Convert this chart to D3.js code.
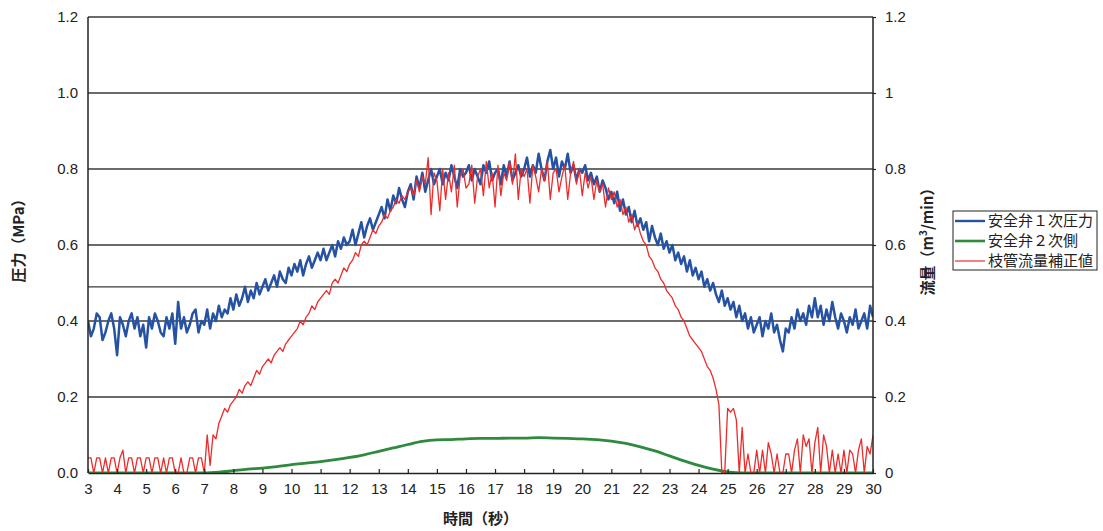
<!DOCTYPE html>
<html>
<head>
<meta charset="utf-8">
<script src="https://cdn.jsdelivr.net/npm/d3@7"></script>
<style>
  html, body { margin: 0; padding: 0; background: #fff; }
  svg { display: block; }
</style>
</head>
<body>
<svg id="chart" width="1103" height="531"></svg>
<script>
// ---- data ----
const seriesNames = ["安全弁１次圧力", "安全弁２次側", "枝管流量補正値"];
const xTicks = [3,4,5,6,7,8,9,10,11,12,13,14,15,16,17,18,19,20,21,22,23,24,25,26,27,28,29,30];
const yTicks = [0, 0.2, 0.4, 0.6, 0.8, 1.0, 1.2];
const leftTickLabels = ["0.0", "0.2", "0.4", "0.6", "0.8", "1.0", "1.2"];
const rightTickLabels = ["0", "0.2", "0.4", "0.6", "0.8", "1", "1.2"];
const refLine = 0.49;

// sampled every 0.1 s from 3.0 s
const fineStart = 3, fineStep = 0.1;
const primaryPressure = [
  .40,.36,.38,.42,.41,.35,.37,.40,.42,.38,.31,
  .41,.39,.36,.40,.42,.38,.41,.36,.39,.33,
  .41,.38,.42,.40,.37,.36,.41,.38,.42,.34,
  .45,.38,.41,.37,.39,.42,.43,.37,.40,.39,
  .43,.38,.42,.40,.44,.41,.43,.42,.46,.43,
  .47,.44,.46,.49,.45,.48,.46,.50,.47,.49,
  .51,.48,.50,.52,.49,.53,.51,.50,.54,.52,
  .55,.53,.56,.52,.55,.57,.54,.56,.58,.56,
  .59,.56,.58,.60,.57,.61,.59,.62,.60,.61,
  .64,.60,.63,.66,.62,.65,.67,.64,.66,.68,
  .70,.67,.72,.69,.73,.71,.75,.72,.70,.74,
  .76,.72,.78,.75,.79,.74,.77,.80,.76,.78,
  .80,.76,.79,.77,.81,.78,.75,.80,.78,.79,
  .81,.77,.80,.78,.76,.81,.79,.82,.77,.79,
  .80,.76,.81,.78,.82,.77,.79,.81,.78,.80,
  .83,.78,.81,.79,.84,.80,.77,.82,.85,.80,
  .83,.78,.82,.80,.84,.79,.81,.77,.80,.79,
  .81,.77,.79,.76,.78,.74,.77,.75,.72,.74,
  .71,.74,.69,.72,.68,.70,.66,.69,.65,.67,
  .64,.66,.61,.65,.62,.60,.63,.59,.61,.58,
  .60,.56,.58,.55,.57,.53,.56,.52,.54,.51,
  .53,.49,.51,.48,.50,.47,.45,.48,.44,.46,
  .43,.45,.41,.44,.40,.42,.38,.41,.37,.39,
  .41,.36,.40,.38,.42,.37,.39,.35,.32,.38,
  .37,.41,.38,.43,.40,.42,.39,.44,.41,.46,
  .41,.44,.39,.43,.40,.45,.41,.38,.42,.40,
  .37,.41,.39,.43,.38,.40,.42,.38,.44,.41
];
const branchFlow = [
  .04,.04,0,.04,.04,0,.04,0,.04,.04,0,
  .04,.06,0,.04,.04,0,.04,.04,0,.04,
  .04,0,.04,.04,0,.04,0,.04,.04,0,
  0,.04,0,0,.04,.04,0,.04,.04,0,
  .10,.02,.10,.09,.13,.15,.17,.16,.18,.19,
  .20,.22,.21,.23,.24,.23,.25,.27,.26,.28,
  .29,.30,.29,.31,.32,.33,.32,.34,.35,.36,
  .37,.38,.40,.39,.41,.42,.44,.43,.45,.46,
  .47,.48,.47,.50,.51,.50,.52,.54,.53,.55,
  .56,.58,.57,.60,.61,.60,.62,.64,.63,.65,
  .66,.68,.67,.69,.70,.72,.71,.73,.72,.74,
  .75,.73,.77,.74,.78,.76,.83,.68,.79,.77,
  .69,.80,.72,.79,.74,.81,.70,.78,.80,.75,
  .76,.81,.71,.78,.80,.73,.82,.75,.79,.70,
  .81,.73,.79,.77,.82,.76,.84,.72,.80,.78,
  .80,.71,.81,.78,.74,.80,.77,.82,.72,.79,
  .80,.74,.78,.81,.72,.79,.82,.76,.80,.73,
  .79,.75,.78,.72,.77,.74,.76,.70,.75,.72,
  .74,.70,.72,.68,.70,.66,.68,.64,.66,.63,
  .61,.60,.57,.56,.54,.53,.51,.50,.48,.47,
  .46,.44,.43,.41,.40,.38,.36,.35,.34,.33,
  .32,.30,.28,.27,.25,.22,.18,0,0,.17,
  .16,.17,.14,0,.12,0,.05,0,0,.06,
  0,.06,0,.08,.05,0,.05,0,0,.05,
  .05,0,.06,.09,0,.10,.07,.09,0,.08,
  .12,0,.10,.07,0,.06,0,.05,0,.06,
  0,.06,.05,0,.06,.09,0,.07,.05,.10
];
// sampled every 0.5 s from 3.0 s
const coarseStart = 3, coarseStep = 0.5;
const secondaryPressure = [
  0,0,0,0,0,0,0,0,0,
  .002,.006,.010,.013,.017,.022,.026,.030,.035,.041,
  .048,.057,.066,.075,.083,.087,.088,.090,.091,.091,
  .092,.092,.093,.092,.091,.090,.088,.084,.078,.069,
  .058,.045,.032,.020,.010,.003,0,0,0,0,
  0,0,0,0,0,0
];

// ---- layout ----
const W = 1103, H = 531;
const plot = { left: 88, right: 873, top: 17, bottom: 473 };
const colors = { blue: "#2552a2", green: "#2e8a3c", red: "#ee2b2b", grid: "#3a3a3a" };
const numFont = "'Liberation Sans', Arial, sans-serif";
const jpFont = "'Noto Sans CJK JP', 'Noto Sans', sans-serif";

const svg = d3.select("#chart");
svg.append("rect").attr("width", W).attr("height", H).attr("fill", "#fff");

const x = d3.scaleLinear().domain([3, 30]).range([plot.left, plot.right]);
const yL = d3.scaleLinear().domain([0, 1.2]).range([plot.bottom, plot.top]);
const yR = d3.scaleLinear().domain([0, 1.2]).range([plot.bottom, plot.top]);

// gridlines
const grid = svg.append("g");
grid.selectAll("line.g").data(yTicks.filter(d => d > 0).concat([refLine]))
  .join("line")
  .attr("x1", plot.left).attr("x2", plot.right)
  .attr("y1", d => yL(d)).attr("y2", d => yL(d))
  .attr("stroke", colors.grid).attr("stroke-width", 1.3);

// series
const fine = arr => arr.map((v, i) => [fineStart + i * fineStep, v]);
const coarse = arr => arr.map((v, i) => [coarseStart + i * coarseStep, v]);

const lineL = d3.line().x(d => x(d[0])).y(d => yL(d[1]));
const lineR = d3.line().x(d => x(d[0])).y(d => yR(d[1]));
const lineSmooth = d3.line().x(d => x(d[0])).y(d => yL(d[1])).curve(d3.curveMonotoneX);

svg.append("clipPath").attr("id", "clip").append("rect")
  .attr("x", plot.left).attr("y", plot.top - 5)
  .attr("width", plot.right - plot.left).attr("height", plot.bottom - plot.top + 5);

const series = svg.append("g").attr("clip-path", "url(#clip)");
series.append("path").datum(coarse(secondaryPressure))
  .attr("d", lineSmooth).attr("fill", "none")
  .attr("stroke", colors.green).attr("stroke-width", 2.8).attr("stroke-linejoin", "round");
series.append("path").datum(fine(primaryPressure))
  .attr("d", lineL).attr("fill", "none")
  .attr("stroke", colors.blue).attr("stroke-width", 2.5).attr("stroke-linejoin", "round");
series.append("path").datum(fine(branchFlow))
  .attr("d", lineR).attr("fill", "none")
  .attr("stroke", colors.red).attr("stroke-width", 1.3).attr("stroke-linejoin", "round");

// axes
const axL = svg.append("g").attr("transform", `translate(${plot.left},0)`)
  .call(d3.axisLeft(yL).tickValues(yTicks).tickSize(0).tickPadding(10)
    .tickFormat((d, i) => leftTickLabels[i]));
const axR = svg.append("g").attr("transform", `translate(${plot.right},0)`)
  .call(d3.axisRight(yR).tickValues(yTicks).tickSize(3).tickPadding(9)
    .tickFormat((d, i) => rightTickLabels[i]));
const axB = svg.append("g").attr("transform", `translate(0,${plot.bottom})`)
  .call(d3.axisBottom(x).tickValues(xTicks).tickSizeInner(-4).tickSizeOuter(0).tickPadding(10)
    .tickFormat(d3.format("d")));

[axL, axR, axB].forEach(a => {
  a.select(".domain").attr("stroke", "#222").attr("stroke-width", 1.5);
  a.selectAll(".tick line").attr("stroke", "#222").attr("stroke-width", 1.2);
  a.selectAll("text").attr("font-family", numFont).attr("font-size", 15).attr("fill", "#222");
});
axL.select(".domain").attr("d", `M0,${plot.bottom}V${plot.top}`);
axR.select(".domain").attr("d", `M0,${plot.bottom}V${plot.top}`);

// axis titles
svg.append("text").attr("x", x(16.5)).attr("y", 524)
  .attr("text-anchor", "middle").attr("font-family", jpFont)
  .attr("font-size", 15).attr("font-weight", "bold").attr("fill", "#222")
  .text("時間（秒）");

svg.append("text").attr("transform", `translate(24,237) rotate(-90)`)
  .attr("text-anchor", "middle").attr("font-family", jpFont)
  .attr("font-size", 15).attr("font-weight", "bold").attr("fill", "#222")
  .text("圧力（MPa）");

const rt = svg.append("text").attr("transform", `translate(933,238) rotate(-90)`)
  .attr("text-anchor", "middle").attr("font-family", jpFont)
  .attr("font-size", 15).attr("font-weight", "bold").attr("fill", "#222");
rt.append("tspan").text("流量（m");
rt.append("tspan").attr("font-size", 10).attr("dy", -6).text("3");
rt.append("tspan").attr("dy", 6).text("/min）");

// legend
const lg = svg.append("g").attr("transform", "translate(953,211)");
lg.append("rect").attr("width", 144).attr("height", 59)
  .attr("fill", "#fff").attr("stroke", "#222").attr("stroke-width", 1);
const legendItems = [
  { name: seriesNames[0], color: colors.blue, w: 2.4 },
  { name: seriesNames[1], color: colors.green, w: 2.6 },
  { name: seriesNames[2], color: colors.red, w: 1.2 }
];
const li = lg.selectAll("g.item").data(legendItems).join("g")
  .attr("transform", (d, i) => `translate(0,${10 + i * 20})`);
li.append("line").attr("x1", 2).attr("x2", 32).attr("y1", 0).attr("y2", 0)
  .attr("stroke", d => d.color).attr("stroke-width", d => d.w);
li.append("text").attr("x", 35).attr("y", 0).attr("dy", "0.36em")
  .attr("font-family", jpFont).attr("font-size", 15).attr("fill", "#222")
  .text(d => d.name);
</script>
</body>
</html>
